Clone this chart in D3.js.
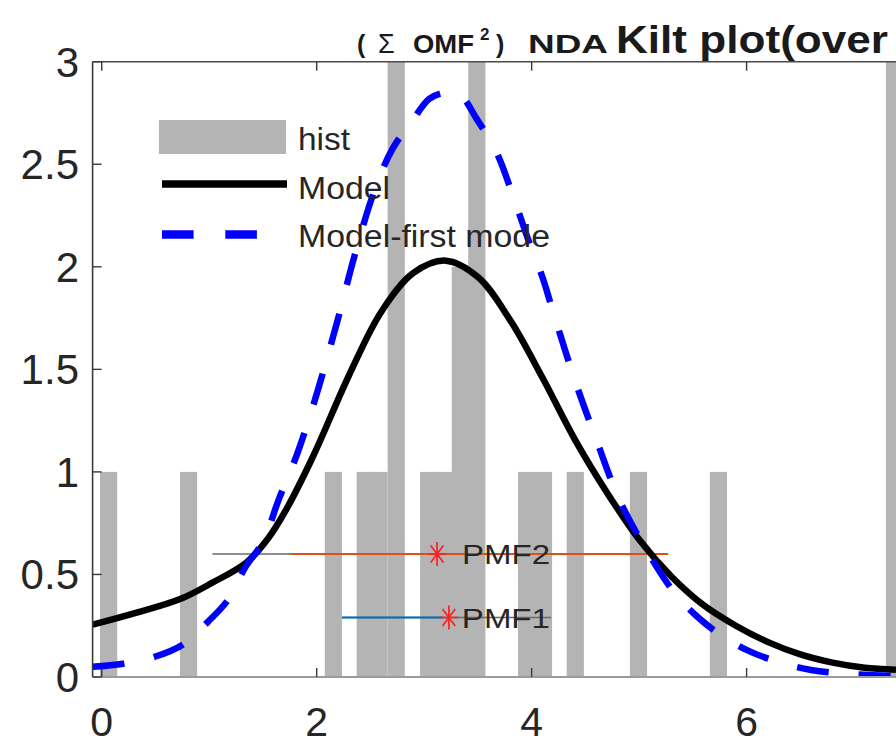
<!DOCTYPE html>
<html>
<head>
<meta charset="utf-8">
<script src="https://cdn.jsdelivr.net/npm/d3@7"></script>
<style>
  html, body { margin: 0; padding: 0; background: #fff; }
  svg { display: block; font-family: "Liberation Sans", Arial, Helvetica, sans-serif; }
</style>
</head>
<body>
<svg id="chart" width="896" height="746"></svg>
<script>
// ---------- data ----------
const binLefts  = [-0.016, 0.728, 2.075, 2.372, 2.50, 2.66, 2.962, 3.10, 3.257, 3.41, 3.873, 4.03, 4.326, 4.914, 5.658, 7.296];
const binCounts = [1, 1, 1, 1, 1, 3.2, 1, 1, 2, 3.2, 1, 1, 1, 1, 1, 3.2];
const binWidth = 0.16;

const modelX = [-0.085, 0.3, 0.73, 1.03, 1.35, 1.54, 1.72, 1.97, 2.3, 2.6, 2.9, 3.2, 3.5, 3.8, 4.1, 4.4, 4.7, 5.0, 5.3, 5.6, 5.9, 6.2, 6.5, 6.8, 7.1, 7.39];
const modelY = [0.255, 0.31, 0.38, 0.46, 0.56, 0.67, 0.82, 1.08, 1.47, 1.78, 1.97, 2.03, 1.95, 1.74, 1.46, 1.16, 0.9, 0.67, 0.49, 0.35, 0.25, 0.17, 0.11, 0.07, 0.045, 0.035];

const firstX = [-0.085, 0.2, 0.5, 0.76, 0.99, 1.18, 1.33, 1.5, 1.65, 1.82, 2.0, 2.2, 2.35, 2.53, 2.7, 2.9, 3.05, 3.2, 3.33, 3.49, 3.68, 3.83, 3.97, 4.1, 4.2, 4.4, 4.6, 4.82, 5.09, 5.33, 5.55, 5.8, 6.05, 6.35, 6.6, 6.95, 7.4];
const firstY = [0.05, 0.065, 0.10, 0.16, 0.27, 0.38, 0.53, 0.66, 0.87, 1.09, 1.38, 1.75, 2.05, 2.36, 2.57, 2.72, 2.82, 2.85, 2.84, 2.72, 2.55, 2.34, 2.13, 1.95, 1.78, 1.45, 1.16, 0.86, 0.6, 0.41, 0.29, 0.19, 0.12, 0.065, 0.034, 0.015, 0.004];

const pmfNames = ["PMF2", "PMF1"];
const pmfY     = [0.6, 0.29];
const pmfCenter = [3.12, 3.23];
const pmfWide  = [[1.03, 5.27], [2.235, 4.18]];
const pmfColorSpan = [[1.76, 5.27], [2.235, 3.17]];

const xTicks = [0, 2, 4, 6];
const yTicks = [0, 0.5, 1, 1.5, 2, 2.5, 3];
const yTickLabels = ["0", "0.5", "1", "1.5", "2", "2.5", "3"];
const legendLabels = ["hist", "Model", "Model-first mode"];

// ---------- layout ----------
const svg = d3.select("#chart");
const W = 896, H = 746;
const pLeft = 92.6, pTop = 61.7, pBottom = 677;
const x = d3.scaleLinear().domain([-0.085, 7.39]).range([pLeft, 896]);
const y = d3.scaleLinear().domain([0, 3]).range([pBottom, pTop]);

svg.append("defs").append("clipPath").attr("id", "plotclip")
  .append("rect").attr("x", pLeft).attr("y", pTop).attr("width", W - pLeft).attr("height", pBottom - pTop);

const plot = svg.append("g").attr("clip-path", "url(#plotclip)");

plot.selectAll("rect.bar").data(binLefts.map((b, i) => ({ b, c: binCounts[i] })))
  .enter().append("rect").attr("class", "bar")
  .attr("x", d => x(d.b))
  .attr("width", d => x(d.b + binWidth) - x(d.b))
  .attr("y", d => y(d.c))
  .attr("height", d => y(0) - y(d.c))
  .attr("fill", "#b4b4b4");

pmfNames.forEach((n, i) => {
  plot.append("line")
    .attr("x1", x(pmfWide[i][0])).attr("x2", x(pmfWide[i][1]))
    .attr("y1", y(pmfY[i])).attr("y2", y(pmfY[i]))
    .attr("stroke", "#6a6a6a").attr("stroke-width", 1.5);
  plot.append("line")
    .attr("x1", x(pmfColorSpan[i][0])).attr("x2", x(pmfColorSpan[i][1]))
    .attr("y1", y(pmfY[i])).attr("y2", y(pmfY[i]))
    .attr("stroke", i === 0 ? "#D95319" : "#0072BD").attr("stroke-width", 2);
});

const line = d3.line().x(d => x(d[0])).y(d => y(d[1])).curve(d3.curveCatmullRom.alpha(0.5));
plot.append("path").datum(modelX.map((v, i) => [v, modelY[i]]))
  .attr("d", line).attr("fill", "none").attr("stroke", "#000").attr("stroke-width", 6.5);
plot.append("path").datum(firstX.map((v, i) => [v, firstY[i]]))
  .attr("d", line).attr("fill", "none").attr("stroke", "#0000ff").attr("stroke-width", 6.5)
  .attr("stroke-dasharray", "32 30");

pmfNames.forEach((n, i) => {
  const cx = x(pmfCenter[i]), cy = y(pmfY[i]);
  const g = svg.append("g").attr("transform", `translate(${cx},${cy})`);
  const r = 12;
  [0, 45, 90, 135].forEach(a => {
    const rad = a * Math.PI / 180;
    g.append("line")
      .attr("x1", -r * Math.sin(rad) * 0.75).attr("y1", -r * Math.cos(rad))
      .attr("x2", r * Math.sin(rad) * 0.75).attr("y2", r * Math.cos(rad))
      .attr("stroke", "#ff2020").attr("stroke-width", 1.7);
  });
  svg.append("text").attr("x", cx + (i === 0 ? 25 : 13)).attr("y", cy + 10)
    .attr("font-size", 28).attr("fill", "#262626")
    .attr("textLength", 88).attr("lengthAdjust", "spacingAndGlyphs")
    .text(n);
});

svg.append("line").attr("x1", pLeft).attr("x2", W).attr("y1", pTop).attr("y2", pTop)
  .attr("stroke", "#4a4a4a").attr("stroke-width", 1.6);
svg.append("line").attr("x1", pLeft).attr("x2", W).attr("y1", pBottom).attr("y2", pBottom)
  .attr("stroke", "#9a9a9a").attr("stroke-width", 2);
svg.append("line").attr("x1", pLeft).attr("x2", pLeft).attr("y1", pTop).attr("y2", pBottom)
  .attr("stroke", "#3a3a3a").attr("stroke-width", 1.6);

const tl = 9;
xTicks.forEach(t => {
  svg.append("line").attr("x1", x(t)).attr("x2", x(t)).attr("y1", pBottom).attr("y2", pBottom - tl)
    .attr("stroke", "#3a3a3a").attr("stroke-width", 1.4);
  svg.append("line").attr("x1", x(t)).attr("x2", x(t)).attr("y1", pTop).attr("y2", pTop + tl)
    .attr("stroke", "#3a3a3a").attr("stroke-width", 1.4);
  svg.append("text").attr("x", x(t)).attr("y", 736).attr("text-anchor", "middle")
    .attr("font-size", 41).attr("fill", "#262626").text(t);
});
yTicks.forEach((t, i) => {
  svg.append("line").attr("x1", pLeft).attr("x2", pLeft + tl).attr("y1", y(t)).attr("y2", y(t))
    .attr("stroke", "#3a3a3a").attr("stroke-width", 1.4);
  svg.append("text").attr("x", 79).attr("y", y(t) + 15).attr("text-anchor", "end")
    .attr("font-size", 42).attr("fill", "#262626").text(yTickLabels[i]);
});

const lg = svg.append("g");
lg.append("rect").attr("x", 159).attr("y", 120).attr("width", 127).attr("height", 34).attr("fill", "#b4b4b4");
lg.append("line").attr("x1", 162).attr("x2", 287).attr("y1", 184).attr("y2", 184)
  .attr("stroke", "#000").attr("stroke-width", 7.5);
lg.append("line").attr("x1", 162).attr("x2", 257).attr("y1", 234.5).attr("y2", 234.5)
  .attr("stroke", "#0000ff").attr("stroke-width", 8.5).attr("stroke-dasharray", "31.6 31.7");
const legW = [52, 92, 252];
const legBase = [150, 199, 247];
legendLabels.forEach((s, i) => {
  lg.append("text").attr("x", 298).attr("y", legBase[i]).attr("font-size", 31).attr("fill", "#262626")
    .attr("textLength", legW[i]).attr("lengthAdjust", "spacingAndGlyphs").text(s);
});

const tg = svg.append("g").attr("font-weight", "bold").attr("fill", "#1a1a1a");
tg.append("text").attr("x", 357).attr("y", 53).attr("font-size", 25).text("(");
tg.append("text").attr("x", 378).attr("y", 53).attr("font-size", 27).attr("font-weight", "normal").text("Σ");
tg.append("text").attr("x", 413).attr("y", 53).attr("font-size", 25)
  .attr("textLength", 61).attr("lengthAdjust", "spacingAndGlyphs").text("OMF");
tg.append("text").attr("x", 480).attr("y", 40).attr("font-size", 17).text("2");
tg.append("text").attr("x", 496).attr("y", 53).attr("font-size", 25).text(")");
tg.append("text").attr("x", 528).attr("y", 53).attr("font-size", 25)
  .attr("textLength", 80).attr("lengthAdjust", "spacingAndGlyphs").text("NDA");
tg.append("text").attr("x", 616).attr("y", 53).attr("font-size", 39)
  .attr("textLength", 272).attr("lengthAdjust", "spacingAndGlyphs").text("Kilt plot(over");
</script>
</body>
</html>
